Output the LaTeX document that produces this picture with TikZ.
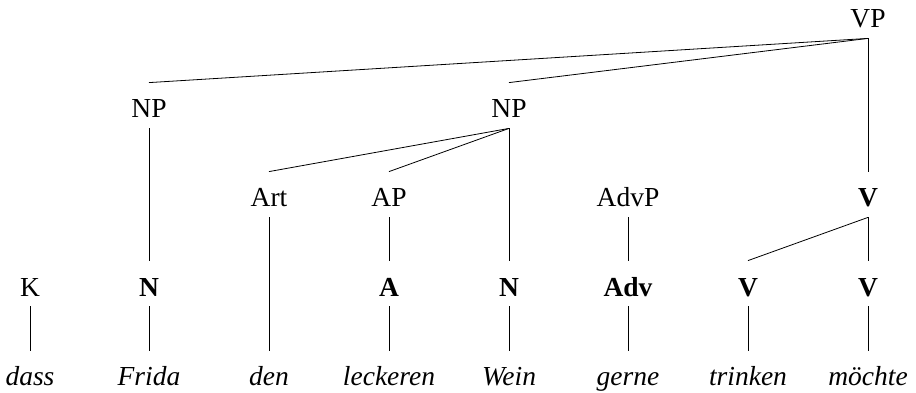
\documentclass[tikz,border=0pt]{standalone}
\usepackage{fontspec}
\setmainfont{Liberation Serif}
\tikzset{
  cat/.style={anchor=base,inner xsep=2pt,inner ysep=4pt,text height=31pt,text depth=6pt,font=\fontsize{27.5}{32}\selectfont},
  head/.style={cat,font=\fontsize{27.5}{32}\selectfont\bfseries},
  word/.style={cat,font=\fontsize{27.5}{32}\selectfont\itshape,text height=30pt},
}
\begin{document}
\begin{tikzpicture}[x=1pt,y=-1pt,line width=0.8pt]
\useasboundingbox (0,0) rectangle (916,393);
% levels: 28, 118, 207, 296, 385
\node[cat] (vp) at (868,28) {VP};
\node[cat] (np1) at (149,118) {NP};
\node[cat] (np2) at (509,118) {NP};
\foreach \n/\x/\t in {art/269/Art,ap/389/AP,advp/628/AdvP}{\node[cat] (\n) at (\x,207) {\t};}
\node[head] (v1) at (868,207) {V};
\node[cat] (k) at (30,296) {K};
\foreach \n/\x/\t in {n1/149/N,a/389/A,n2/509/N,adv/628/Adv,v2/748/V,v3/868/V}{\node[head] (\n) at (\x,296) {\t};}
\foreach \n/\x/\t in {dass/30/dass,frida/149/Frida,den/269/den,leck/389/leckeren,wein/509/Wein,gerne/628/gerne,trink/748/trinken,moechte/868/möchte}{\node[word] (\n) at (\x,385) {\t};}
% branches
\foreach \a/\b in {vp/np1,vp/np2,vp/v1,np1/n1,np2/art,np2/ap,np2/n2,ap/a,advp/adv,v1/v2,v1/v3,
  k/dass,n1/frida,art/den,a/leck,n2/wein,adv/gerne,v2/trink,v3/moechte}{\draw (\a.south) -- (\b.north);}
\end{tikzpicture}
\end{document}
